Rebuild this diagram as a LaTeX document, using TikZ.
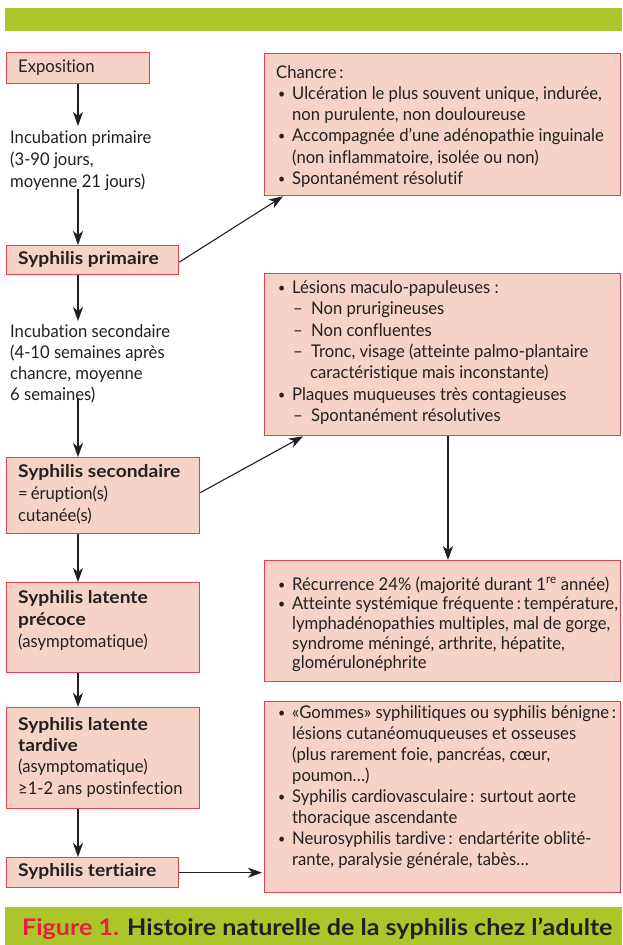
\documentclass[tikz,border=0pt]{standalone}
\usepackage{fontspec}
\usepackage{graphicx}
\setmainfont{Lato}[FakeStretch=0.95, Ligatures=NoCommon, BoldFeatures={FakeStretch=1.1}]
\usetikzlibrary{arrows.meta}
\definecolor{boxfill}{HTML}{F7D3C7}
\definecolor{boxred}{HTML}{E2404F}
\definecolor{barg}{HTML}{ACC52B}
\definecolor{capred}{HTML}{E1233B}
\definecolor{textc}{HTML}{231F20}
\newcommand\st{\rule{0pt}{16pt}}
\newcommand\bl{\makebox[16pt][l]{\hspace{2pt}\raisebox{1pt}{\scalebox{0.75}{•}}}}
\newcommand\ind{\hspace*{16pt}}
\newcommand\ds{\hspace*{17pt}\makebox[18pt][l]{–}}
\newcommand\dind{\hspace*{34pt}}
\tikzset{
  boxn/.style={draw=boxred, fill=boxfill, line width=1.3pt, inner sep=0pt, anchor=north west},
  bar/.style={fill=barg, inner sep=0pt, anchor=north west},
  txt/.style={anchor=north west, inner sep=0pt, align=left, text=textc},
  arr/.style={-{Stealth[length=14pt,width=10pt,inset=4pt]}, line width=1.1pt, draw=textc},
  fa/.style={font=\fontsize{17.5}{21.5}\selectfont},
}
\begin{document}
\begin{tikzpicture}[x=1pt,y=-1pt]
\useasboundingbox (0,0) rectangle (622,945);
% bars
\node[bar, minimum width=617pt, minimum height=23pt] (topbar) at (5,8) {};
\node[bar, minimum width=617pt, minimum height=38pt] (capbar) at (5,907) {};
\node[anchor=base west, inner sep=0pt, font=\bfseries\fontsize{22.8}{26}\selectfont, text=textc] (cap) at (22,935)
  {\textcolor{capred}{Figure 1.} Histoire naturelle de la syphilis chez l’adulte};
% left boxes
\node[boxn, minimum width=143pt, minimum height=31pt] (expo) at (6,52) {};
\node[boxn, minimum width=172pt, minimum height=29pt] (prim) at (6,245) {};
\node[boxn, minimum width=193pt, minimum height=76pt] (sec) at (6,457) {};
\node[boxn, minimum width=193pt, minimum height=90pt] (prec) at (6,582) {};
\node[boxn, minimum width=193pt, minimum height=101pt] (tard) at (6,707) {};
\node[boxn, minimum width=172pt, minimum height=30pt] (tert) at (6,857) {};
% right boxes
\node[boxn, minimum width=356pt, minimum height=142pt] (chan) at (264,53) {};
\node[boxn, minimum width=356pt, minimum height=162pt] (les) at (264,273) {};
\node[boxn, minimum width=356pt, minimum height=121pt] (rec) at (264,560) {};
\node[boxn, minimum width=356pt, minimum height=191pt] (gom) at (264,701) {};
% left texts
\node[txt, fa] (texpo) at (18,72-16) {\st Exposition};
\node[txt, font=\fontsize{17.5}{22}\selectfont] (inc1) at (10,143-16)
  {\st Incubation primaire\\(3-90 jours,\\moyenne 21 jours)};
\node[txt, fa] (tprim) at (18,264-16) {\st\bfseries Syphilis primaire};
\node[txt, font=\fontsize{17.5}{21}\selectfont] (inc2) at (10,337-16)
  {\st Incubation secondaire\\(4-10 semaines après\\chancre, moyenne\\6 semaines)};
\node[txt, font=\fontsize{17.5}{22}\selectfont] (tsec) at (18,477-16)
  {\st\textbf{Syphilis secondaire}\\=\,éruption(s)\\cutanée(s)};
\node[txt, font=\fontsize{17.5}{22}\selectfont] (tprec) at (18,603-16)
  {\st\textbf{Syphilis latente}\\\textbf{précoce}\\(asymptomatique)};
\node[txt, font=\fontsize{17.5}{21.3}\selectfont] (ttard) at (18,730-16)
  {\st\textbf{Syphilis latente}\\\textbf{tardive}\\(asymptomatique)\\≥1-2 ans postinfection};
\node[txt, fa] (ttert) at (18,876-16) {\st\bfseries Syphilis tertiaire};
% right texts
\node[txt, font=\fontsize{17.5}{21.2}\selectfont] (tchan) at (276,78-16)
  {\st Chancre\,:\\
   \bl Ulcération le plus souvent unique, indurée,\\
   \ind non purulente, non douloureuse\\
   \bl Accompagnée d’une adénopathie inguinale\\
   \ind (non inflammatoire, isolée ou non)\\
   \bl Spontanément résolutif};
\node[txt, font=\fontsize{17.5}{21.4}\selectfont] (tles) at (276,293-16)
  {\st\bl Lésions maculo-papuleuses :\\
   \ds Non prurigineuses\\
   \ds Non confluentes\\
   \ds Tronc, visage (atteinte palmo-plantaire\\
   \dind caractéristique mais inconstante)\\
   \bl Plaques muqueuses très contagieuses\\
   \ds Spontanément résolutives};
\node[txt, font=\fontsize{17.5}{19.6}\selectfont] (trec) at (276,590-16)
  {\st\bl Récurrence 24\% (majorité durant 1\textsuperscript{re} année)\\
   \bl Atteinte systémique fréquente\,:\,température,\\
   \ind lymphadénopathies multiples, mal de gorge,\\
   \ind syndrome méningé, arthrite, hépatite,\\
   \ind glomérulonéphrite};
\node[txt, font=\fontsize{17.5}{21}\selectfont] (tgom) at (276,718-16)
  {\st\bl «Gommes» syphilitiques ou syphilis bénigne\,:\\
   \ind lésions cutanéomuqueuses et osseuses\\
   \ind (plus rarement foie, pancréas, cœur,\\
   \ind poumon…)\\
   \bl Syphilis cardiovasculaire\,: surtout aorte\\
   \ind thoracique ascendante\\
   \bl Neurosyphilis tardive\,: endartérite oblité-\\
   \ind rante, paralysie générale, tabès…};
% connectors
\draw[arr] ([xshift=72pt]expo.south west) -- ([xshift=72pt,yshift=1pt]expo.south west |- inc1.north);
\draw[arr] ([xshift=72pt,yshift=2pt]prim.north west |- inc1.south) -- ([xshift=72pt]prim.north west);
\draw[arr] ([xshift=72pt]prim.south west) -- ([xshift=72pt]prim.south west |- inc2.north);
\draw[arr] ([xshift=72pt,yshift=5pt]sec.north west |- inc2.south) -- ([xshift=72pt]sec.north west);
\draw[arr] ([xshift=72pt]sec.south west) -- ([xshift=72pt]prec.north west);
\draw[arr] ([xshift=72pt]prec.south west) -- ([xshift=72pt]tard.north west);
\draw[arr] ([xshift=72pt]tard.south west) -- ([xshift=72pt]tert.north west);
\draw[arr] (tert.east) -- ([xshift=-2pt]tert.east -| gom.west);
\draw[arr] ([yshift=-2pt]prim.east) -- ([xshift=19pt]chan.south west);
\draw[arr] ([yshift=3pt]sec.east) -- ([xshift=39pt]les.south west);
\draw[arr] ([xshift=184pt]les.south west) -- ([xshift=184pt]rec.north west);
\end{tikzpicture}
\end{document}
